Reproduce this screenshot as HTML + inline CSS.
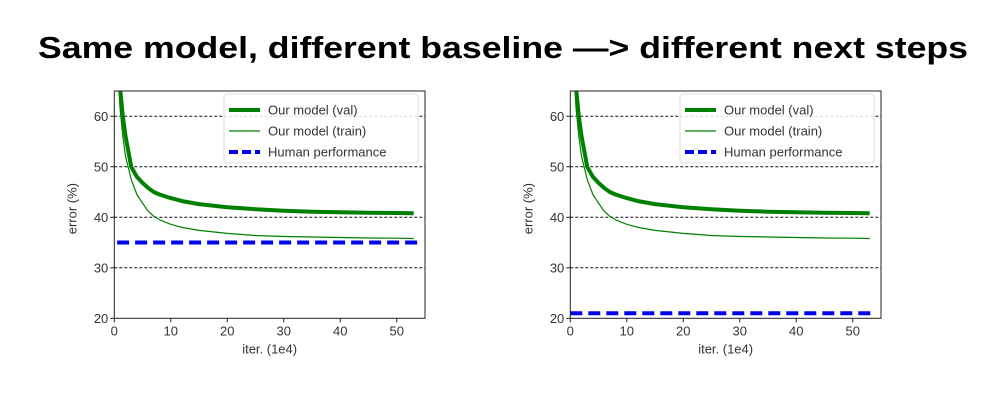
<!DOCTYPE html>
<html><head><meta charset="utf-8"><style>
body{margin:0;background:#fff;width:1000px;height:405px;overflow:hidden}
svg{display:block;font-family:"Liberation Sans",Arial,sans-serif}
</style></head><body>
<svg id="s" width="1000" height="405">
<text x="503" y="58" text-anchor="middle" font-size="31" font-weight="bold" textLength="930" lengthAdjust="spacingAndGlyphs">Same model, different baseline —&gt; different next steps</text>
</svg>
<script>
const iters=[0.6,1,1.5,2,3,4,5,6,7,8,10,12,15,20,25,30,35,40,45,50,53];
const valErr=[75,66,60,56,50,48,46.8,45.8,45,44.5,43.8,43.2,42.6,42,41.6,41.3,41.1,41,40.9,40.85,40.8];
const trainErr=[70,62,56,52,47.5,44.5,42.8,41.2,40.2,39.5,38.6,38,37.4,36.8,36.4,36.2,36.1,36,35.9,35.85,35.8];
const humanLeft=35;
const humanRight=21;
const xTicks=[0,10,20,30,40,50];
const yTicks=[20,30,40,50,60];
const legendLabels=["Our model (val)","Our model (train)","Human performance"];
const NS="http://www.w3.org/2000/svg";
const svg=document.getElementById('s');
function mk(tag,attrs,parent){const e=document.createElementNS(NS,tag);for(const k in attrs)e.setAttribute(k,attrs[k]);(parent||svg).appendChild(e);return e;}
function panel(id,L,R,T,B,human,hx0,legX){
  const xs=v=>L+(v/55)*(R-L), ys=v=>B-(v-20)/45*(B-T);
  const g=mk('g',{});
  
  
  mk('clipPath',{id:id+'c'},g).appendChild(mk('rect',{x:L,y:T,width:R-L,height:B-T},g));
  yTicks.forEach(t=>{
    if(t>20){const gl=mk('line',{x1:L,x2:R,y1:ys(t),y2:ys(t),stroke:'#111','stroke-width':1,'stroke-dasharray':'3,2'},g);
    }
    mk('line',{x1:L-4,x2:L,y1:ys(t),y2:ys(t),stroke:'#222'},g);
    const tx=mk('text',{x:L-6,y:ys(t)+4.5,'text-anchor':'end','font-size':13,fill:'#333'},g);tx.textContent=t;
    
  });
  xTicks.forEach(t=>{
    mk('line',{x1:xs(t),x2:xs(t),y1:B,y2:B+4,stroke:'#222'},g);
    const tx=mk('text',{x:xs(t),y:B+17,'text-anchor':'middle','font-size':13,fill:'#333'},g);tx.textContent=t;
    
  });
  const xl=mk('text',{x:(L+R)/2,y:B+35,'text-anchor':'middle','font-size':13,fill:'#333'},g);xl.textContent='iter. (1e4)';
  
  const yl=mk('text',{transform:`translate(${L-38},${(T+B)/2+4}) rotate(-90)`,'text-anchor':'middle','font-size':13,fill:'#333'},g);yl.textContent='error (%)';
  
  const cg=mk('g',{'clip-path':`url(#${id}c)`},g);
  const pts=a=>iters.map((x,i)=>xs(x).toFixed(1)+','+ys(a[i]).toFixed(1)).join(' ');
  const v=mk('polyline',{points:pts(valErr),fill:'none',stroke:'#008000','stroke-width':4,'stroke-linejoin':'round'},cg);
  
  const tr=mk('polyline',{points:pts(trainErr),fill:'none',stroke:'#008000','stroke-width':1.2,'stroke-linejoin':'round'},cg);
  
  const h=mk('line',{x1:xs(hx0),x2:xs(54),y1:ys(human),y2:ys(human),stroke:'#0000ee','stroke-width':4,'stroke-dasharray':'12,6'},cg);
  
  mk('rect',{x:L,y:T,width:R-L,height:B-T,fill:'none',stroke:'#222','stroke-width':1},g);
  const lg=mk('g',{},g);
  
  mk('rect',{x:legX,y:94,width:194,height:69,rx:3,fill:'#fff','fill-opacity':0.85,stroke:'#ddd'},lg);
  const styles=[{stroke:'#008000','stroke-width':4},{stroke:'#008000','stroke-width':1.2},{stroke:'#0000ee','stroke-width':4,'stroke-dasharray':'9,4'}];
  legendLabels.forEach((lab,i)=>{
    const y=110+i*21;
    mk('line',Object.assign({x1:legX+5,x2:legX+36,y1:y,y2:y},styles[i]),lg);
    const t=mk('text',{x:legX+44,y:y+4.5,'font-size':13,fill:'#333'},lg);t.textContent=lab;
    
  });
}
panel('left-chart',114.3,425,91,318.3,humanLeft,0.5,224);
panel('right-chart',570.3,881,91,318.3,humanRight,0,680);
</script>
</body></html>
